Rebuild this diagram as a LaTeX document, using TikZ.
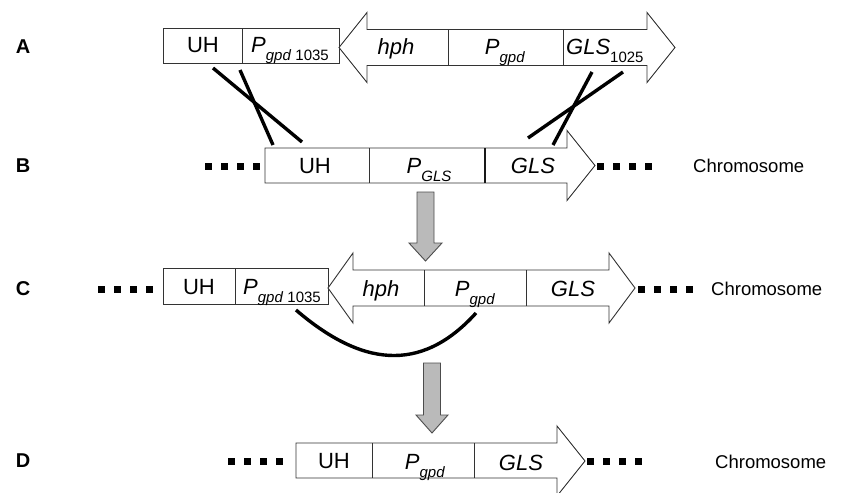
\documentclass[tikz,border=0pt]{standalone}
\usepackage{fontspec}
\setmainfont{Liberation Sans}
\newcommand{\lowsub}[1]{\raisebox{-0.40em}{\fontsize{15}{17}\selectfont #1}}
\begin{document}
\begin{tikzpicture}[x=1pt,y=-1pt,
  gene/.style={draw=black!80, line width=0.9pt, fill=white, line join=miter},
  divl/.style={draw=black!80, line width=0.9pt},
  lbl/.style={font=\fontsize{22}{26}\selectfont, inner sep=0pt, anchor=base},
  rowlbl/.style={font=\fontsize{20}{24}\selectfont\bfseries, inner sep=0pt},
  chrom/.style={font=\fontsize{18.5}{22}\selectfont, inner sep=0pt, anchor=west},
  cross/.style={line width=3.4pt, black},
  garrow/.style={draw=black!70, fill=black!27, line width=0.9pt, line join=miter},
  sq/.style={fill=black}]
\useasboundingbox (0,0) rectangle (855,493);
\clip (0,0) rectangle (855,493);

% ---------- row labels ----------
\node[rowlbl] (lA) at (23,47) {A};
\node[rowlbl] (lB) at (23,166) {B};
\node[rowlbl] (lC) at (23,289) {C};
\node[rowlbl] (lD) at (23,461) {D};

% ---------- row A ----------
\draw[gene] (163,28) rectangle (339,63);
\draw[divl] (242,28) -- (242,63);
\draw[gene] (339,47.5) -- (367,12.5) -- (367,29.5) -- (647,29.5) -- (647,12.5) -- (675,47.5)
  -- (647,82.5) -- (647,65.5) -- (367,65.5) -- (367,82.5) -- cycle;
\draw[divl] (448,29.5) -- (448,65.5);
\draw[divl] (563,29.5) -- (563,65.5);
\node[lbl] (aUH) at (203,52) {UH};
\node[lbl] (aP) at (290,52) {\textit{P}\lowsub{\textit{gpd} 1035}};
\node[lbl] (ahph) at (396,54) {\textit{hph}};
\node[lbl] (aPg) at (505,54) {\textit{P}\lowsub{\textit{gpd}}};
\node[lbl, anchor=base west] (aGLS) at (566,54) {\textit{GLS}\lowsub{1025}};

% crossing lines A -> B
\coordinate (x1s) at (213,68);  \coordinate (x1e) at (302,142);
\coordinate (x2s) at (240,70);  \coordinate (x2e) at (273,145);
\coordinate (x3s) at (592,72);  \coordinate (x3e) at (553,145);
\coordinate (x4s) at (623,72);  \coordinate (x4e) at (528,138);
\draw[cross] (x1s) -- (x1e);
\draw[cross] (x2s) -- (x2e);
\draw[cross] (x3s) -- (x3e);
\draw[cross] (x4s) -- (x4e);

% ---------- row B ----------
\foreach \x in {205,221,237,253} \fill[sq] (\x,162.5) rectangle ++(7,7);
\foreach \x in {597,613,629,645} \fill[sq] (\x,162.5) rectangle ++(7,7);
\draw[gene] (265,148) -- (567,148) -- (567,130.5) -- (595,165.5) -- (567,200.5) -- (567,183) -- (265,183) -- cycle;
\draw[divl] (369,148) -- (369,183);
\draw[draw=black!90, line width=1.5pt] (485,148) -- (485,183);
\node[lbl] (bUH) at (315,173) {UH};
\node[lbl] (bP) at (429,173) {\textit{P}\lowsub{\textit{GLS}}};
\node[lbl] (bGLS) at (533,173) {\textit{GLS}};
\node[chrom] (bCh) at (693,166) {Chromosome};

% gray arrow B -> C
\draw[garrow] (417,192) -- (434,192) -- (434,243) -- (442,243) -- (425.5,261) -- (409,243) -- (417,243) -- cycle;

% ---------- row C ----------
\foreach \x in {98,114,130,146} \fill[sq] (\x,285.5) rectangle ++(7,7);
\foreach \x in {638,654,670,686} \fill[sq] (\x,285.5) rectangle ++(7,7);
\draw[gene] (163,268) rectangle (328,304);
\draw[divl] (235,268) -- (235,304);
\draw[gene] (328,288) -- (353,253) -- (353,270) -- (609,270) -- (609,253) -- (635,288)
  -- (609,323) -- (609,306) -- (353,306) -- (353,323) -- cycle;
\draw[divl] (424,270) -- (424,306);
\draw[divl] (526,270) -- (526,306);
\node[lbl] (cUH) at (199,294) {UH};
\node[lbl] (cP) at (282,294) {\textit{P}\lowsub{\textit{gpd} 1035}};
\node[lbl] (chph) at (381,296) {\textit{hph}};
\node[lbl] (cPg) at (475,296) {\textit{P}\lowsub{\textit{gpd}}};
\node[lbl] (cGLS) at (573,296) {\textit{GLS}};
\node[chrom] (cCh) at (711,289) {Chromosome};

% loop-out curve
\coordinate (cvs) at (296,310);
\coordinate (cve) at (476,313);
\draw[cross] (cvs) .. controls (360,365) and (420,375) .. (cve);

% gray arrow C -> D
\draw[garrow] (423.5,363) -- (440.5,363) -- (440.5,415) -- (448,415) -- (432,433) -- (416,415) -- (423.5,415) -- cycle;

% ---------- row D ----------
\foreach \x in {228,244,260,276} \fill[sq] (\x,458) rectangle ++(7,7);
\foreach \x in {587,603,619,635} \fill[sq] (\x,458) rectangle ++(7,7);
\draw[gene] (296,443) -- (557,443) -- (557,426) -- (585,461) -- (557,496) -- (557,478) -- (296,478) -- cycle;
\draw[divl] (372,443) -- (372,478);
\draw[divl] (474,443) -- (474,478);
\node[lbl] (dUH) at (334,468) {UH};
\node[lbl] (dP) at (425,469) {\textit{P}\lowsub{\textit{gpd}}};
\node[lbl] (dGLS) at (521,470) {\textit{GLS}};
\node[chrom] (dCh) at (715,462) {Chromosome};
\end{tikzpicture}
\end{document}
